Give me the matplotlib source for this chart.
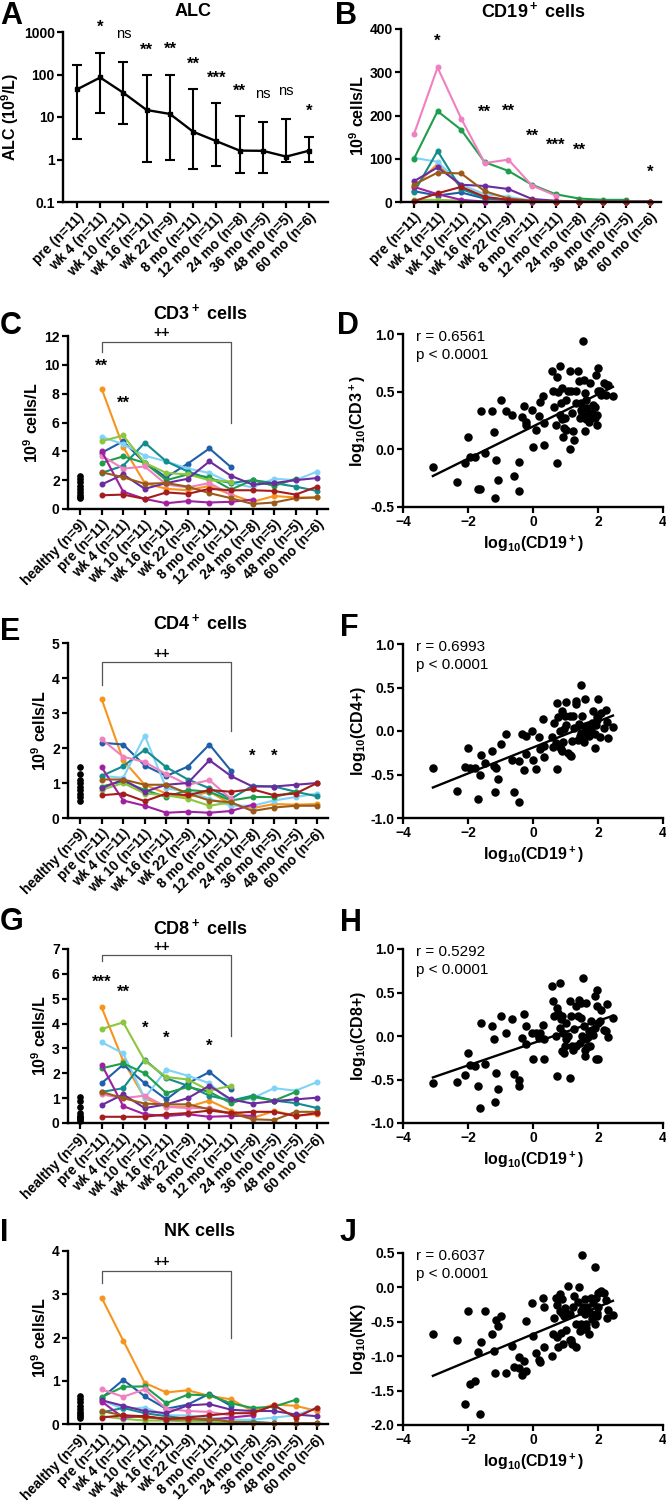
import numpy as np
import matplotlib
matplotlib.use("Agg")
import matplotlib.pyplot as plt

plt.rcParams["font.family"] = ["Liberation Sans", "DejaVu Sans"]
plt.rcParams["mathtext.fontset"] = "custom"
plt.rcParams["mathtext.rm"] = "Liberation Sans:bold"
plt.rcParams["mathtext.it"] = "Liberation Sans:bold"
plt.rcParams["mathtext.bf"] = "Liberation Sans:bold"
plt.rcParams["mathtext.default"] = "rm"

nan = np.nan

timepoints = ["pre (n=11)", "wk 4 (n=11)", "wk 10 (n=11)", "wk 16 (n=11)", "wk 22 (n=9)",
              "8 mo (n=11)", "12 mo (n=11)", "24 mo (n=8)", "36 mo (n=5)", "48 mo (n=5)", "60 mo (n=6)"]
healthy_label = "healthy (n=9)"

# patient colours (same order in every panel)
patient_colors = ["#F7941D", "#1F5FA8", "#7FD3F7", "#138C8C", "#1E9E4A", "#8CC63F",
                  "#F080C0", "#6A2C9E", "#A020A0", "#9B5A1A", "#A51C1C"]

# A: ALC geometric mean with range
alc_mean = [44.5, 85, 37, 14.6, 11.8, 4.5, 2.7, 1.62, 1.6, 1.17, 1.62]
alc_upper = [163, 320, 197, 96, 100, 44.5, 21, 10.8, 7.6, 9.1, 3.4]
alc_lower = [3.0, 12.2, 6.9, 0.87, 0.96, 0.59, 0.69, 0.49, 0.49, 0.87, 0.87]
alc_sig = ["", "*", "ns", "**", "**", "**", "***", "**", "ns", "ns", "*"]
alc_sig_y = [nan, 1300, 900, 370, 390, 170, 82, 40, 34, 40, 14]

# B: CD19+ per patient
cd19 = [
    [35, 88, 35, 8, 5, 2, 1, 0.5, 0.3, 0.3, 0.3],
    [25, 15, 22, 8, 5, 2, 1, nan, nan, nan, nan],
    [102, 93, 40, 18, 12, 3, 1, 0.5, 1, 1, 1],
    [22, 118, 30, 10, 5, 2, 1, 0.5, 0.3, 0.3, 0.3],
    [100, 210, 167, 92, 72, 40, 18, 8, 5, 5, nan],
    [5, 5, 3, 1, 0.5, 0.3, 0.3, nan, nan, nan, nan],
    [157, 311, 193, 90, 98, 38, 15, nan, nan, nan, nan],
    [48, 80, 40, 37, 30, 7, 3, 1, 1, 1, 1],
    [35, 18, 5, 1, 1, 0.5, 0.5, 0.5, nan, nan, nan],
    [40, 68, 66, 25, 8, 3, 1, 0.5, 0.5, 0.5, 0.5],
    [2, 20, 35, 12, 5, 2, 1, 1, 0.5, 0.5, 0.5],
]
cd19_sig = ["", "*", "", "**", "**", "**", "***", "**", "", "", "*"]
cd19_sig_y = [nan, 372, nan, 208, 210, 153, 131, 120, nan, nan, 69]

# C: CD3+
cd3_healthy = [2.3, 2.1, 1.9, 1.6, 1.4, 1.2, 1.0, 0.85, 0.75]
cd3 = [
    [8.35, 4.3, 1.8, 1.4, 1.3, 1.6, 1.0, 0.5, 0.9, 0.8, 0.8],
    [3.9, 4.7, 3.2, 2.2, 3.15, 4.2, 2.9, nan, nan, nan, nan],
    [5.0, 4.5, 3.7, 3.3, 2.8, 2.5, 1.8, 1.5, 2.1, 2.0, 2.6],
    [2.5, 3.0, 4.6, 3.3, 2.6, 2.1, 1.8, 2.0, 1.8, 1.55, 1.25],
    [3.2, 3.65, 3.2, 2.0, 2.4, 2.2, 1.35, 2.0, 1.6, 2.1, nan],
    [4.7, 5.1, 3.2, 2.5, 2.4, 2.0, 1.9, nan, nan, nan, nan],
    [3.7, 2.8, 2.95, 1.7, 1.5, 1.8, 1.0, nan, nan, nan, nan],
    [1.7, 2.4, 1.4, 1.8, 2.1, 3.3, 2.3, 1.7, 1.8, 2.0, 2.15],
    [4.0, 1.2, 0.7, 0.4, 0.55, 0.45, 0.5, 0.65, nan, nan, nan],
    [2.55, 2.2, 1.75, 1.8, 1.55, 1.1, 0.75, 0.35, 0.45, 0.75, 0.8],
    [0.95, 1.0, 0.7, 1.15, 1.05, 1.4, 1.3, 1.3, 1.25, 1.0, 1.55],
]
cd3_sig = [("**", 1, 9.9), ("**", 2, 7.3)]

# E: CD4+
cd4_healthy = [1.45, 1.25, 1.1, 1.0, 0.9, 0.8, 0.7, 0.6, 0.5]
cd4 = [
    [3.4, 1.65, 0.95, 0.7, 0.6, 0.75, 0.4, 0.28, 0.4, 0.38, 0.4],
    [2.15, 2.1, 1.5, 1.2, 1.47, 2.1, 1.35, nan, nan, nan, nan],
    [1.2, 1.15, 2.35, 0.85, 0.75, 0.55, 0.35, 0.35, 0.5, 0.6, 0.7],
    [1.2, 1.48, 1.95, 1.45, 1.1, 0.85, 0.55, 0.92, 0.9, 0.75, 0.62],
    [0.9, 1.05, 0.8, 0.6, 0.8, 0.75, 0.5, 0.6, 0.6, 0.75, nan],
    [0.8, 1.0, 0.7, 0.65, 0.55, 0.35, 0.45, nan, nan, nan, nan],
    [2.25, 1.75, 1.6, 1.25, 0.95, 1.08, 0.55, nan, nan, nan, nan],
    [0.85, 1.1, 0.75, 0.95, 1.0, 1.65, 1.2, 0.9, 0.9, 0.95, 1.0],
    [1.45, 0.5, 0.35, 0.15, 0.18, 0.15, 0.2, 0.38, nan, nan, nan],
    [1.1, 1.1, 0.95, 0.95, 0.7, 0.5, 0.45, 0.2, 0.3, 0.35, 0.35],
    [0.65, 0.7, 0.48, 0.7, 0.65, 0.8, 0.75, 0.82, 0.65, 0.7, 1.0],
]
cd4_sig = [("*", 8, 1.75), ("*", 9, 1.75)]

# G: CD8+
cd8_healthy = [1.05, 0.9, 0.65, 0.4, 0.3, 0.25, 0.2, 0.15, 0.1]
cd8 = [
    [4.65, 2.5, 1.0, 0.65, 0.65, 0.9, 0.5, 0.2, 0.48, 0.3, 0.35],
    [1.6, 2.35, 1.6, 0.95, 1.6, 2.05, 1.35, nan, nan, nan, nan],
    [3.25, 2.8, 1.0, 2.15, 1.9, 1.6, 0.85, 1.0, 1.4, 1.3, 1.65],
    [1.25, 1.4, 2.55, 1.8, 1.5, 1.1, 0.9, 1.1, 0.9, 0.8, 0.6],
    [2.2, 2.4, 2.0, 1.2, 1.45, 1.25, 0.8, 1.05, 0.9, 1.25, nan],
    [3.78, 4.05, 2.5, 1.85, 1.75, 1.3, 1.5, nan, nan, nan, nan],
    [1.15, 1.0, 1.1, 0.65, 0.6, 0.6, 0.35, nan, nan, nan, nan],
    [0.72, 1.15, 0.6, 0.75, 1.0, 1.5, 0.95, 0.78, 0.88, 0.95, 1.02],
    [2.35, 0.68, 0.35, 0.28, 0.35, 0.25, 0.28, 0.3, nan, nan, nan],
    [1.25, 1.0, 0.78, 0.75, 0.75, 0.55, 0.4, 0.15, 0.12, 0.45, 0.45],
    [0.25, 0.25, 0.25, 0.35, 0.4, 0.5, 0.4, 0.45, 0.45, 0.28, 0.4],
]
cd8_sig = [("***", 1, 5.65), ("**", 2, 5.25), ("*", 3, 3.8), ("*", 4, 3.4), ("*", 6, 3.1)]

# I: NK
nk_healthy = [0.65, 0.58, 0.5, 0.42, 0.35, 0.28, 0.22, 0.18, 0.13]
nk = [
    [2.92, 1.93, 0.95, 0.73, 0.78, 0.65, 0.57, 0.3, 0.45, 0.42, 0.3],
    [0.6, 1.02, 0.64, 0.35, 0.45, 0.7, 0.42, nan, nan, nan, nan],
    [0.55, 0.35, 0.38, 0.2, 0.2, 0.15, 0.1, 0.1, 0.15, 0.2, 0.38],
    [0.27, 0.37, 0.25, 0.18, 0.12, 0.08, 0.05, 0.05, 0.02, 0.02, 0.02],
    [0.62, 0.86, 0.87, 0.48, 0.68, 0.66, 0.48, 0.37, 0.4, 0.56, nan],
    [0.18, 0.12, 0.08, 0.08, 0.06, 0.05, 0.04, nan, nan, nan, nan],
    [0.8, 0.63, 0.8, 0.35, 0.3, 0.28, 0.2, nan, nan, nan, nan],
    [0.55, 0.42, 0.3, 0.25, 0.43, 0.46, 0.33, 0.3, 0.3, 0.22, 0.18],
    [0.52, 0.15, 0.18, 0.1, 0.12, 0.1, 0.15, 0.2, nan, nan, nan],
    [0.3, 0.2, 0.15, 0.12, 0.1, 0.12, 0.05, 0.03, 0.02, 0.02, 0.02],
    [0.15, 0.2, 0.18, 0.12, 0.15, 0.2, 0.25, 0.25, 0.43, 0.15, 0.38],
]

# bracket: (top, left leg bottom, right leg bottom, "++" y)
cd3_bracket = (11.6, 10.9, 6.0, 12.2)
cd4_bracket = (4.45, 3.8, 2.5, 4.7)
cd8_bracket = (6.75, 6.5, 3.5, 7.1)
nk_bracket = (3.54, 3.27, 2.0, 3.75)

# scatter x values: log10(CD19+) (shared by D, F, H, J)
log_cd19 = [-3.08, -2.34, -2.0, -2.1, -1.95, -1.79, -1.68, -1.62, -1.59, -1.47, -1.25, -1.21, -1.18,
            -1.14, -1.07, -0.98, -0.84, -0.66, -0.59, -0.44, -0.44, -0.35, -0.29, -0.23, -0.23, -0.02,
            0.0, 0.1, 0.18, 0.23, 0.32, 0.33, 0.35, 0.58, 0.62, 0.64, 0.7, 0.74, 0.74, 0.78, 0.82,
            0.84, 0.86, 0.88, 0.9, 0.92, 0.94, 0.97, 1.0, 1.02, 1.07, 1.13, 1.15, 1.18, 1.21, 1.23,
            1.25, 1.31, 1.33, 1.38, 1.41, 1.44, 1.49, 1.49, 1.52, 1.54, 1.56, 1.59, 1.59, 1.62, 1.64,
            1.67, 1.69, 1.72, 1.76, 1.79, 1.82, 1.85, 1.9, 1.92, 1.95, 1.97, 1.98, 2.0, 2.0, 2.05,
            2.1, 2.17, 2.24, 2.28, 2.31, 2.46]
log_cd3 = [-0.156, -0.28, 0.11, -0.12, -0.07, -0.07, -0.34, -0.34, 0.335, -0.03, 0.33, 0.15, -0.42,
           -0.095, -0.27, 0.425, 0.33, 0.30, -0.23, -0.11, -0.36, 0.28, 0.38, 0.24, 0.21, 0.34,
           0.02, 0.17, 0.29, 0.41, 0.46, 0.04, 0.23, 0.675, 0.51, 0.37, 0.21, 0.63, -0.12, 0.5, 0.30,
           0.72, 0.40, 0.53, 0.26, 0.11, 0.185, 0.27, 0.17, 0.43, 0.51, 0.675, 0.0, 0.51, 0.315, 0.155,
           0.085, 0.51, 0.40, 0.675, 0.59, 0.27, 0.40, 0.345, 0.315, 0.935, 0.60, 0.49, 0.155, 0.26, 0.43,
           0.36, 0.30, 0.24, 0.575, 0.30, 0.315, 0.385, 0.27, 0.37, 0.645, 0.30, 0.21, 0.705, 0.51, 0.51,
           0.47, 0.575, 0.47, 0.56, 0.56, 0.46]
log_cd4 = [-0.42, -0.69, -0.195, -0.41, -0.42, -0.425, -0.78, -0.51, -0.28, -0.37, -0.23, -0.40, -0.70,
           -0.425, -0.55, -0.145, -0.035, -0.33, -0.70, -0.35, -0.815, -0.03, -0.45, -0.26, -0.06, 0.0,
           -0.33, -0.44, -0.07, -0.21, 0.14, -0.30, -0.17, -0.07, -0.18, 0.09, -0.14, -0.44, 0.32, 0.16, 0.0,
           -0.18, -0.21, 0.225, -0.23, -0.13, 0.02, 0.17, 0.33, 0.07, -0.25, 0.17, -0.28, -0.29, -0.12, 0.175,
           0.035, 0.315, 0.35, -0.10, 0.085, -0.06, -0.02, 0.53, 0.17, -0.10, -0.13, 0.37, 0.055, 0.015,
           -0.04, 0.035, 0.07, -0.06, -0.02, 0.02, 0.09, 0.235, -0.195, -0.03, 0.07, 0.16, 0.13, 0.17,
           0.37, -0.07, 0.21, 0.035, 0.245, 0.10, -0.08, 0.05]
log_cd8 = [-0.54, -0.525, -0.20, -0.45, -0.33, -0.35, -0.57, -0.83, 0.15, -0.32, 0.11, -0.04, -0.755,
           -0.42, -0.61, 0.235, 0.04, 0.19, -0.44, -0.50, -0.57, -0.02, 0.255, 0.11, -0.09, 0.03,
           -0.265, 0.03, -0.02, 0.04, 0.13, -0.265, -0.035, 0.58, 0.40, 0.225, 0.0, -0.455, 0.32, 0.265, 0.09,
           0.61, 0.19, -0.175, 0.225, 0.04, -0.20, -0.12, -0.04, 0.155, 0.0, 0.40, -0.48, 0.225, -0.11, -0.16,
           0.08, 0.34, -0.12, 0.225, 0.41, -0.08, 0.38, 0.205, 0.0, 0.665, 0.11, -0.16, -0.225, -0.04, 0.38,
           -0.125, -0.01, 0.055, -0.11, 0.17, 0.065, 0.015, 0.09, 0.455, -0.27, 0.525, 0.34, -0.27, 0.15,
           0.17, 0.30, 0.065, 0.055, 0.37, -0.01, 0.21]
log_nk = [-0.68, -0.765, -0.35, -1.70, -1.41, -1.365, -0.94, -1.84, -0.80, -0.35, -0.68, -0.92, -1.24,
          -0.475, -0.56, -0.415, -1.245, -0.85, -1.15, -1.01, -1.17, -1.27, -1.07, -1.21, -0.495, -0.22,
          -0.70, -0.955, -1.06, -1.09, -0.16, -0.285, -0.87, -1.0, -0.68, -0.45, -0.15, -0.255, -0.725, -0.87,
          -0.35, -0.10, -0.67, -0.365, -0.17, -0.82, -0.41, -0.30, -0.62, -0.365, 0.02, -0.77, -0.39, -0.765,
          -0.82, -0.29, -0.125, -0.53, -0.87, -0.205, 0.0, -0.63, -0.34, -0.525, 0.475, -0.29, -0.605, -0.17,
          -0.39, -0.525, -0.59, -0.29, -0.34, -0.68, -0.365, -0.15, -0.46, -0.22, 0.29, -0.525, -0.15, -0.365,
          -0.41, -0.29, -0.075, -0.06, -0.05, -0.075, -0.19, -0.45, -0.33, -0.40]

scatter_stats = [("r = 0.6561", "p < 0.0001"), ("r = 0.6993", "p < 0.0001"),
                 ("r = 0.5292", "p < 0.0001"), ("r = 0.6037", "p < 0.0001")]

W, H = 666, 1501
fig = plt.figure(figsize=(W / 100, H / 100), dpi=100)

TICK_FS = 10
LABEL_FS = 11.5
TITLE_FS = 13
STAR_FS = 12


def px_axes(left, top, right, bottom):
    return fig.add_axes([left / W, 1 - bottom / H, (right - left) / W, (bottom - top) / H])


def style_axes(ax):
    for s in ["top", "right"]:
        ax.spines[s].set_visible(False)
    for s in ["left", "bottom"]:
        ax.spines[s].set_linewidth(1.7)
    ax.tick_params(width=1.6, length=4, labelsize=TICK_FS, pad=2)
    for lab in ax.get_yticklabels() + ax.get_xticklabels():
        lab.set_fontweight("bold")


def cat_labels(ax, labels, positions, fs=TICK_FS):
    ax.set_xticks(positions)
    ax.set_xticklabels(labels, rotation=45, ha="right", rotation_mode="anchor",
                       fontsize=fs, fontweight="bold")


def panel_letter(x, y, letter):
    fig.text(x / W, 1 - y / H, letter, fontsize=22, fontweight="bold", ha="left", va="center")


def panel_title(x, y, title):
    fig.text(x / W, 1 - y / H, title, fontsize=TITLE_FS, fontweight="bold", ha="center", va="center")


def sig_text(ax, x, y, s):
    if s == "ns":
        ax.text(x, y, s, ha="center", va="center", fontsize=10.5, clip_on=False)
    else:
        ax.text(x, y, s, ha="center", va="center", fontsize=STAR_FS, fontweight="bold", clip_on=False)


# ---- A: ALC
ax = px_axes(63, 32, 328, 202)
xa = np.arange(len(alc_mean))
yerr = [np.array(alc_mean) - np.array(alc_lower), np.array(alc_upper) - np.array(alc_mean)]
ax.errorbar(xa, alc_mean, yerr=yerr, color="black", lw=1.7, capsize=3.5, capthick=1.5,
            marker="s", ms=3.5, elinewidth=1.5)
ax.set_yscale("log")
ax.set_ylim(0.1, 1000)
ax.set_xlim(-0.6, 10.8)
ax.set_yticks([0.1, 1, 10, 100, 1000])
ax.set_yticklabels(["0.1", "1", "10", "100", "1000"])
ax.minorticks_off()
cat_labels(ax, timepoints, xa)
style_axes(ax)
ax.set_ylabel("ALC (10$^9$/L)", fontsize=LABEL_FS, fontweight="bold", labelpad=2)
panel_title(193, 11, "ALC")
for i, (s, y) in enumerate(zip(alc_sig, alc_sig_y)):
    if s:
        sig_text(ax, i, y, s)
panel_letter(0, 16, "A")

# ---- B: CD19
ax = px_axes(401, 29, 661, 202)
for vals, c in zip(cd19, patient_colors):
    ax.plot(xa, vals, color=c, lw=1.5, marker="o", ms=3.3, clip_on=False)
ax.set_ylim(0, 400)
ax.set_xlim(-0.55, 10.47)
ax.set_yticks([0, 100, 200, 300, 400])
cat_labels(ax, timepoints, xa)
style_axes(ax)
ax.set_ylabel("10$^9$ cells/L", fontsize=LABEL_FS, fontweight="bold", labelpad=2)
panel_title(533, 11, "CD19$^+$ cells")
for i, (s, y) in enumerate(zip(cd19_sig, cd19_sig_y)):
    if s:
        sig_text(ax, i, y, s)
panel_letter(335, 16, "B")


def time_panel(box, healthy, series, ymax, yticks, title, title_y, sig, bracket, letter_xy, letter,
               label_fs=TICK_FS):
    ax = px_axes(*box)
    xt = np.arange(1, len(timepoints) + 1)
    ax.plot(np.zeros(len(healthy)), healthy, "o", color="black", ms=3.8, clip_on=False)
    for vals, c in zip(series, patient_colors):
        ax.plot(xt, vals, color=c, lw=1.5, marker="o", ms=3.3, clip_on=False)
    ax.set_ylim(0, ymax)
    ax.set_xlim(-0.56, 11.5)
    ax.set_yticks(yticks)
    cat_labels(ax, [healthy_label] + timepoints, np.arange(0, len(timepoints) + 1), label_fs)
    style_axes(ax)
    ax.set_ylabel("10$^9$ cells/L", fontsize=LABEL_FS, fontweight="bold", labelpad=2)
    panel_title(200, title_y, title)
    for s, i, y in sig:
        sig_text(ax, i, y, s)
    top, lbot, rbot, ply = bracket
    ax.plot([1, 1, 7, 7], [lbot, top, top, rbot], color="#555555", lw=0.9, clip_on=False)
    ax.text(3.8, ply, "++", ha="center", va="center", fontsize=10, fontweight="bold", clip_on=False)
    panel_letter(letter_xy[0], letter_xy[1], letter)
    return ax


def scatter_panel(box, xs, ys, ylim, yticks, ylabel, stats, letter_xy, letter):
    ax = px_axes(*box)
    ax.scatter(xs, ys, s=26, color="black", zorder=3, clip_on=False)
    k, b = np.polyfit(xs, ys, 1)
    xl = np.array([min(xs), max(xs)])
    ax.plot(xl, k * xl + b, color="black", lw=1.7)
    ax.set_xlim(-4, 4)
    ax.set_ylim(*ylim)
    ax.set_xticks([-4, -2, 0, 2, 4])
    ax.set_yticks(yticks)
    ax.set_yticklabels([f"{v:.1f}" for v in yticks])
    style_axes(ax)
    ax.set_xlabel("log$_{10}$(CD19$^+$)", fontsize=LABEL_FS, fontweight="bold", labelpad=3)
    ax.set_ylabel(ylabel, fontsize=LABEL_FS, fontweight="bold", labelpad=2)
    ax.text(0.05, 0.98, stats[0], transform=ax.transAxes, fontsize=11, va="center")
    ax.text(0.05, 0.88, stats[1], transform=ax.transAxes, fontsize=11, va="center")
    panel_letter(letter_xy[0], letter_xy[1], letter)
    return ax


time_panel((68, 336, 328, 509), cd3_healthy, cd3, 12, [0, 2, 4, 6, 8, 10, 12], "CD3$^+$ cells", 313,
           cd3_sig, cd3_bracket, (0, 326), "C")
time_panel((68, 643, 328, 818), cd4_healthy, cd4, 5, [0, 1, 2, 3, 4, 5], "CD4$^+$ cells", 623,
           cd4_sig, cd4_bracket, (0, 632), "E")
time_panel((68, 949, 328, 1123), cd8_healthy, cd8, 7, [0, 1, 2, 3, 4, 5, 6, 7], "CD8$^+$ cells", 928,
           cd8_sig, cd8_bracket, (0, 922), "G")
time_panel((68, 1251, 328, 1424), nk_healthy, nk, 4, [0, 1, 2, 3, 4], "NK cells", 1231,
           [], nk_bracket, (0, 1233), "I", label_fs=8.6)

scatter_panel((403, 334, 663, 507), log_cd19, log_cd3, (-0.5, 1.0), [-0.5, 0.0, 0.5, 1.0],
              "log$_{10}$(CD3$^+$)", scatter_stats[0], (337, 326), "D")
scatter_panel((403, 644, 663, 818), log_cd19, log_cd4, (-1.0, 1.0), [-1.0, -0.5, 0.0, 0.5, 1.0],
              "log$_{10}$(CD4+)", scatter_stats[1], (340, 628), "F")
scatter_panel((403, 949, 663, 1123), log_cd19, log_cd8, (-1.0, 1.0), [-1.0, -0.5, 0.0, 0.5, 1.0],
              "log$_{10}$(CD8+)", scatter_stats[2], (340, 923), "H")
scatter_panel((403, 1253, 663, 1425), log_cd19, log_nk, (-2.0, 0.5), [-2.0, -1.5, -1.0, -0.5, 0.0, 0.5],
              "log$_{10}$(NK)", scatter_stats[3], (340, 1233), "J")

fig.savefig("out.png", dpi=100)
